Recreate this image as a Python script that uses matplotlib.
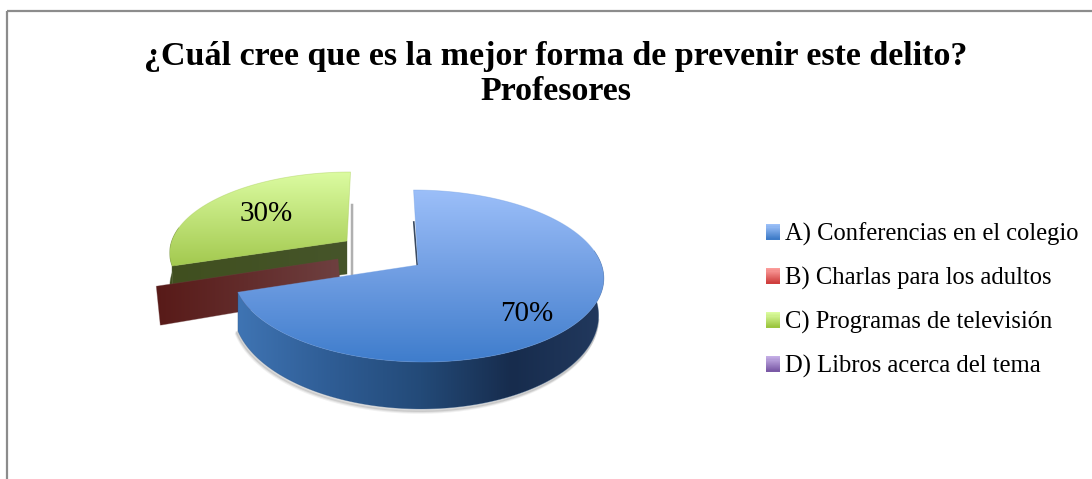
import numpy as np
import matplotlib
matplotlib.use("Agg")
import matplotlib.pyplot as plt
from matplotlib.colors import LinearSegmentedColormap
from matplotlib.legend_handler import HandlerBase
from matplotlib.patches import Polygon, Rectangle

title = "¿Cuál cree que es la mejor forma de prevenir este delito?\nProfesores"
categories = ["A) Conferencias en el colegio", "B) Charlas para los adultos",
              "C) Programas de televisión", "D) Libros acerca del tema"]
values = [70, 0, 30, 0]

plt.rcParams['font.family'] = ['Liberation Serif', 'DejaVu Serif']

# legend swatch colours, light to dark
key_colors = [("#9cc0f8", "#3f7cc8"), ("#fb9c9a", "#cf3f3e"),
              ("#dcfca0", "#9cc640"), ("#c4aee6", "#7b5aa6")]
top_colors = [["#9cbff9", "#6f9de2", "#3f7dcc"], None, ["#dcfca2", "#a3c94f"], None]
side_colors = [["#3f74b3", "#2f5d95", "#234a78", "#172c4d", "#22395e"],
               ["#581a18", "#6e4040"],
               ["#404f1f", "#46552a"], None]
# where each slice ends up once pulled out: apex x, apex y, x scale, y scale, shear, depth
placement = [(418, 265, 1.00, 1.00, -5, 35.7),
             (338, 259, 1.00, 1.00, 0, 35.7),
             (347, 241, 0.955, 0.92, 4, 33.0),
             (418, 265, 1.00, 1.00, -5, 35.7)]
label_place = [(0.68, 0, 13), None, (0.60, -1, -1), None]
# part of the rim that can be seen, clockwise degrees
rim_range = [(80, 252), None, (252, 280), None]

RX, RY, PERSP = 183.5, 84.6, 0.128

fig = plt.figure(figsize=(10.92, 4.79), dpi=100, facecolor='white')
ax = fig.add_axes([0, 0, 1, 1])
ax.set_xlim(0, 1092)
ax.set_ylim(479, 0)
ax.axis('off')

# chart frame, runs off the right and bottom of the picture
ax.add_patch(Rectangle((7, 11), 1100, 500, fill=False, ec='#8c8c8c', lw=1.6))


def project(deg, r, place):
    # slice angle (clockwise from 12 o'clock) to pixels, with a bit of perspective
    ax0, ay0, sx, sy, shear, depth = place
    x = r * np.sin(np.radians(deg))
    y = r * np.cos(np.radians(deg))
    w = 1 + PERSP * y
    px = ax0 + (RX * sx * x + shear * y) / w
    py = ay0 - RY * sy * y / w
    d = depth / w ** 2
    return px, py, d


def gradient_fill(poly_xy, colors, vertical, zorder):
    poly_xy = np.asarray(poly_xy)
    x0, y0 = poly_xy.min(axis=0)
    x1, y1 = poly_xy.max(axis=0)
    ramp = np.linspace(0, 1, 256)
    ramp = ramp[:, None] if vertical else ramp[None, :]
    cmap = LinearSegmentedColormap.from_list("g", colors)
    im = ax.imshow(ramp, cmap=cmap, extent=(x0, x1, y1, y0), aspect='auto',
                   origin='upper', zorder=zorder)
    clip = Polygon(poly_xy, closed=True, transform=ax.transData, fc='none', ec='none')
    ax.add_patch(clip)
    im.set_clip_path(clip)
    # soft edge, clip paths come out jagged
    ax.add_patch(Polygon(poly_xy, closed=True, fc='none', ec=colors[len(colors) // 2],
                         lw=0.6, alpha=0.4, zorder=zorder))


edges = np.cumsum([0] + values) / sum(values) * 360
# back to front: green, red, blue
for i in [2, 1, 0]:
    place = placement[i]
    apex_x, apex_y, depth0 = place[0], place[1], place[5]
    z = 3 + (2 - i) * 2

    if rim_range[i] is not None:
        ang = np.linspace(rim_range[i][0], rim_range[i][1], 200)
        px, py, d = project(ang, 1, place)
        bx = px * 0.986 + 3.3 if i == 0 else px
        by = py + d
        if i == 0:
            # soft shadow under the rim
            low = ang > 100
            for off, a in [(3.5, 0.10), (2.5, 0.15), (1.5, 0.22)]:
                ax.plot(bx[low] - off * 0.4, by[low] + off, color='#777777', lw=2, alpha=a, zorder=z - 0.5)
        rim = np.column_stack([np.r_[px, bx[::-1]], np.r_[py, by[::-1]]])
        gradient_fill(rim, side_colors[i], False, z)

    # cut face at the start of the slice, the only one facing us on the left side
    if i in (1, 2):
        ex, ey, ed = project(edges[i], 1, place)
        cut = [(apex_x, apex_y), (ex, ey), (ex + 4 * (i == 1), ey + ed * (39 / 38.7 if i == 1 else 0.9)),
               (apex_x + 3 * (i == 1), apex_y + depth0)]
        gradient_fill(cut, side_colors[i], False, z + 0.5)

    if values[i] > 0:
        ang = np.linspace(edges[i], edges[i + 1], 300)
        px, py, _ = project(ang, 1, place)
        top = np.column_stack([np.r_[apex_x, px], np.r_[apex_y, py]])
        gradient_fill(top, top_colors[i], True, z + 1)

# dark sliver on the 12 o'clock cut of the big slice, thin shadow right of the green one
sx_, sy_, _ = project(edges[0], 1, placement[0])
ax.plot([sx_ + 0.2, placement[0][0] - 0.8], [sy_ + 32, placement[0][1]], color='#3a4a60', lw=1.2, zorder=2)
sx_, sy_, _ = project(edges[3], 1, placement[2])
ax.plot([sx_ + 1.5, placement[2][0] + 5], [sy_ + 33, placement[2][1] + 33], color='#b0b0b0', lw=1.8, zorder=2)

# data labels
for i, v in enumerate(values):
    if v == 0:
        continue
    r, ox, oy = label_place[i]
    mid = (edges[i] + edges[i + 1]) / 2
    lx, ly, _ = project(mid, r, placement[i])
    ax.text(lx + ox, ly + oy, f"{v}%", fontsize=21, ha='center', va='center', color='black', zorder=20)

ax.text(556, 74, title, fontsize=24.5, fontweight='bold', ha='center', va='center',
        linespacing=1.15, color='black', zorder=20)


class GradientKey(HandlerBase):
    def create_artists(self, legend, orig_handle, xdescent, ydescent, width, height, fontsize, trans):
        cmap = LinearSegmentedColormap.from_list("k", orig_handle.get_label_colors())
        n = 14
        strips = []
        for k in range(n):
            strips.append(Rectangle((-xdescent, -ydescent + height * (n - 1 - k) / n), width, height / n + 0.2,
                                    fc=cmap(k / (n - 1)), ec='none', transform=trans))
        return strips


class Key(Rectangle):
    def __init__(self, colors):
        super().__init__((0, 0), 1, 1)
        self._colors = colors

    def get_label_colors(self):
        return self._colors


handles = [Key(c) for c in key_colors]
ax.legend(handles, categories, handler_map={Key: GradientKey()},
          loc='center left', bbox_to_anchor=(766 / 1092, 1 - 300.5 / 479), frameon=False,
          fontsize=17.7, handlelength=0.57, handleheight=0.57, handletextpad=0.2,
          labelspacing=0.85, borderpad=0, borderaxespad=0)

fig.savefig("out.png", dpi=100)
